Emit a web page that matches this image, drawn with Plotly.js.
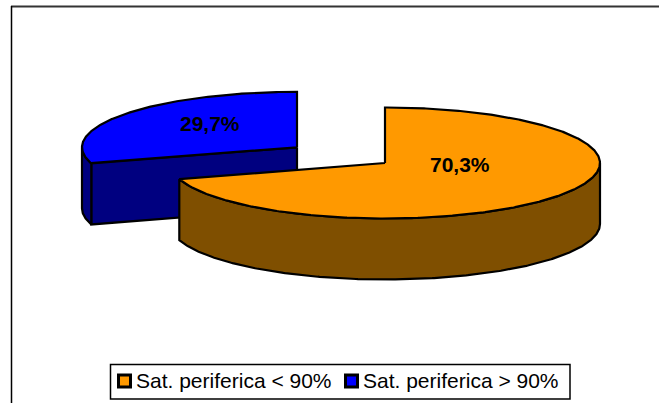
<!DOCTYPE html>
<html>
<head>
<meta charset="utf-8">
<script src="https://cdn.plot.ly/plotly-3.0.1.min.js"></script>
<style>html,body{margin:0;padding:0;background:#fff}#chart{width:659px;height:403px}</style>
</head>
<body>
<div id="chart"></div>
<script>
// Share of patients by peripheral saturation
const categories = ['Sat. periferica < 90%', 'Sat. periferica > 90%'];
const shares = [70.3, 29.7];
const topColors = ['#FF9900', '#0000FF'];
const sideColors = ['#7F4F00', '#000080'];

// Tilted-disc projection, in plot units
const centers = [[385, 163], [297, 147.3]];
const radiusX = 215, radiusY = 55.5, depth = 61;
const labelAnchors = [[460, 164], [209.5, 123.5]];
const legendMarks = [124.5, 351.5];
const legendTexts = [136, 363];
const legendRow = 381;

const rad = d => d * Math.PI / 180;
// Angles run clockwise from twelve o'clock
function rimPoint(c, deg, drop) {
  return [c[0] + radiusX * Math.sin(rad(deg)), c[1] - radiusY * Math.cos(rad(deg)) + drop];
}
function arc(c, from, to, drop) {
  const pts = [];
  const n = Math.max(2, Math.ceil(Math.abs(to - from) * 2));
  for (let i = 0; i <= n; i++) pts.push(rimPoint(c, from + (to - from) * i / n, drop));
  return pts;
}
function polygon(pts, fill) {
  const closed = pts.concat([pts[0]]);
  return {
    x: closed.map(p => p[0]), y: closed.map(p => p[1]),
    type: 'scatter', mode: 'lines', fill: 'toself', fillcolor: fill,
    line: {color: '#000', width: 2.2}, hoverinfo: 'skip', showlegend: false
  };
}

// Slice boundaries from the shares
const spans = [];
let running = 0;
const total = shares.reduce((a, b) => a + b, 0);
shares.forEach(v => {
  spans.push([running, running + v / total * 360]);
  running += v / total * 360;
});

function sliceTraces(i) {
  const c = centers[i], s = spans[i], out = [];
  const sideFrom = Math.max(s[0], 90), sideTo = Math.min(s[1], 270);
  // cut face turned to the viewer (only the slice starting on the left half has one)
  if (s[0] > 180 && s[0] < 270) {
    const p = rimPoint(c, s[0], 0);
    out.push(polygon([c, p, [p[0], p[1] + depth], [c[0], c[1] + depth]], sideColors[i]));
  }
  // outer wall
  out.push(polygon(arc(c, sideFrom, sideTo, 0).concat(arc(c, sideTo, sideFrom, depth)), sideColors[i]));
  // top face
  out.push(polygon([c].concat(arc(c, s[0], s[1], 0)), topColors[i]));
  return out;
}

const pieTraces = sliceTraces(1).concat(sliceTraces(0));

const keyTraces = categories.map((name, i) => ({
  x: [legendMarks[i]], y: [legendRow], name: name,
  type: 'scatter', mode: 'markers', hoverinfo: 'skip', showlegend: false,
  marker: {symbol: 'square', size: 12, color: topColors[i], line: {color: '#000', width: 3}}
}));

const valueLabels = shares.map((v, i) => ({
  x: labelAnchors[i][0], y: labelAnchors[i][1], xref: 'x', yref: 'y',
  text: v.toFixed(1).replace('.', ',') + '%', showarrow: false,
  xanchor: 'center', yanchor: 'middle',
  font: {family: 'Liberation Sans, Arial, sans-serif', size: 21, color: '#000', weight: 700}
}));
const keyLabels = categories.map((name, i) => ({
  x: legendTexts[i], y: legendRow - 1, xref: 'x', yref: 'y',
  text: name.replace('<', '&lt;').replace('>', '&gt;'), showarrow: false,
  xanchor: 'left', yanchor: 'middle', xshift: -2,
  font: {family: 'Liberation Sans, Arial, sans-serif', size: 21, color: '#000'}
}));

const hidden = {visible: false, fixedrange: true};
const layout = {
  width: 659, height: 403,
  margin: {l: 0, r: 0, t: 0, b: 0},
  paper_bgcolor: '#fff', plot_bgcolor: '#fff',
  showlegend: false,
  xaxis: Object.assign({range: [0, 659]}, hidden),
  yaxis: Object.assign({range: [403, 0]}, hidden),
  shapes: [
    {type: 'line', xref: 'x', yref: 'y', x0: 11, x1: 659, y0: 6.5, y1: 6.5, line: {color: '#333', width: 2}},
    {type: 'line', xref: 'x', yref: 'y', x0: 11.5, x1: 11.5, y0: 6, y1: 403, line: {color: '#000', width: 1.5}},
    {type: 'rect', xref: 'x', yref: 'y', x0: 110.5, x1: 570, y0: 364.5, y1: 399, line: {color: '#000', width: 1.5}, fillcolor: '#fff', layer: 'below'}
  ],
  annotations: valueLabels.concat(keyLabels)
};

Plotly.newPlot('chart', pieTraces.concat(keyTraces), layout, {displayModeBar: false, staticPlot: true});
</script>
</body>
</html>
